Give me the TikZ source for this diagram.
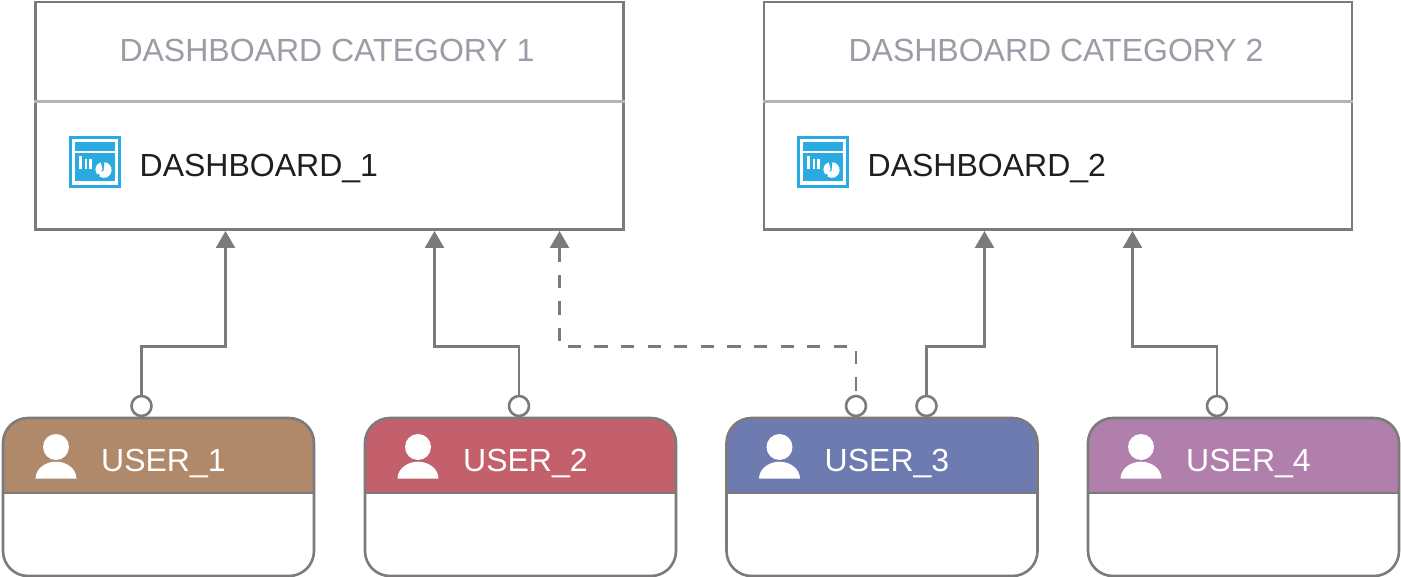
\documentclass[tikz,border=0pt]{standalone}
\usepackage{fontspec}
\setmainfont{Liberation Sans}
\usetikzlibrary{arrows.meta}
\definecolor{lineg}{HTML}{7D7A7B}
\definecolor{divg}{HTML}{B5B4B5}
\definecolor{capg}{HTML}{9C9BA6}
\definecolor{icb}{HTML}{29ABE2}
\definecolor{ubrown}{HTML}{AF8969}
\definecolor{ured}{HTML}{C4606C}
\definecolor{ublue}{HTML}{6E7BB0}
\definecolor{upurple}{HTML}{B17FAB}
\tikzset{
  x=1pt,y=-1pt,
  catbox/.style={draw=lineg,line width=2.6pt,fill=white},
  divline/.style={draw=divg,line width=2.6pt},
  cattext/.style={text=capg,font=\fontsize{32}{32}\selectfont,inner sep=0pt,anchor=base},
  dashtext/.style={text=black!88,font=\fontsize{32}{32}\selectfont,inner sep=0pt,anchor=base west},
  usertext/.style={text=white,font=\fontsize{32}{32}\selectfont,inner sep=0pt,anchor=base west},
  usershape/.style={draw=lineg,line width=2.6pt},
  port/.style={circle,draw=lineg,line width=2.6pt,fill=white,minimum size=20pt,inner sep=0pt},
  link/.style={draw=lineg,line width=2.6pt,-{Triangle[length=17pt,width=19pt,fill=lineg]}},
  linkdash/.style={link,dash pattern=on 13.3pt off 13.3pt,dash phase=22.6pt},
}
\newcommand{\dashicon}[2]{%
  \begin{scope}[shift={(#1,#2)}]
    \fill[icb] (0,0) rectangle (52,52);
    \fill[white] (3,3) rectangle (49,49);
    \fill[icb] (5.7,6) rectangle (45.7,14.7);
    \fill[icb] (5.7,17.3) rectangle (45.7,44.7);
    \fill[white] (9.7,19.7) rectangle (13,33);
    \fill[white] (15.7,23) rectangle (18.3,33);
    \fill[white] (20,23) rectangle (22.7,33);
    \fill[white] (34.8,34) -- +(275:7.8) arc[start angle=275,end angle=485,radius=7.8] -- cycle;
    \fill[white] (33.6,33.4) -- +(135:7.2) arc[start angle=135,end angle=255,radius=7.2] -- cycle;
    \fill[white] (33.4,35.2) -- +(125:0.1) -- (28.5,35) arc[start angle=170,end angle=125,radius=7.5] -- cycle;
  \end{scope}}
\newcommand{\userbox}[4]{% x, colour, label, name
  \begin{scope}[shift={(#1,418)}]
    \fill[#2] (0,75) -- (0,25) arc[start angle=180,end angle=270,radius=25] -- (286,0) arc[start angle=270,end angle=360,radius=25] -- (311,75) -- cycle;
    \draw[usershape] (0,25) arc[start angle=180,end angle=270,radius=25] -- (286,0) arc[start angle=270,end angle=360,radius=25] -- (311,133) arc[start angle=0,end angle=90,radius=25] -- (25,158) arc[start angle=90,end angle=180,radius=25] -- cycle;
    \draw[usershape] (0,75) -- (311,75);
    \fill[white] (53,29) circle[radius=13];
    \fill[white] (32.5,60.7) arc[start angle=180,end angle=360,x radius=20.5,y radius=17] -- cycle;
    \node[usertext] (#4) at (98,53) {#3};
  \end{scope}}
\begin{document}
\begin{tikzpicture}
\useasboundingbox (0,0) rectangle (1401,577);
% category boxes
\node[catbox,minimum width=588pt,minimum height=227.5pt,anchor=north west,inner sep=0pt] (cat1) at (34.2,0.7) {};
\node[catbox,minimum width=588pt,minimum height=227.5pt,anchor=north west,inner sep=0pt] (cat2) at (762.7,0.7) {};
\draw[divline] (cat1.west |- 0,101.5) coordinate (d1l) -- (cat1.east |- 0,101.5) coordinate (d1r);
\draw[divline] (cat2.west |- 0,101.5) coordinate (d2l) -- (cat2.east |- 0,101.5) coordinate (d2r);
\node[cattext] (t1) at (327,62) {DASHBOARD CATEGORY 1};
\node[cattext] (t2) at (1056,62) {DASHBOARD CATEGORY 2};
\dashicon{69}{136}
\dashicon{797}{136}
\node[dashtext] (n1) at (139.5,177) {DASHBOARD\_1};
\node[dashtext] (n2) at (867.5,177) {DASHBOARD\_2};
% users
\userbox{3}{ubrown}{USER\_1}{u1}
\userbox{365}{ured}{USER\_2}{u2}
\userbox{726.5}{ublue}{USER\_3}{u3}
\userbox{1088}{upurple}{USER\_4}{u4}
% ports
\node[port] (p1) at (141.5,406) {};
\node[port] (p2) at (519,406) {};
\node[port] (p3a) at (856,406) {};
\node[port] (p3b) at (926.5,406) {};
\node[port] (p4) at (1217,406) {};
% targets
\coordinate (a1) at (225.5,231);
\coordinate (a2) at (434.5,231);
\coordinate (a3) at (559.5,231);
\coordinate (a4) at (984.5,231);
\coordinate (a5) at (1132.5,231);
% connectors
\draw[link] (p1.north) -- (p1.north |- 0,346.5) -| (a1);
\draw[link] (p2.north) -- (p2.north |- 0,346.5) -| (a2);
\draw[linkdash] (p3a.north) -- (p3a.north |- 0,346.5) -| (a3);
\draw[link] (p3b.north) -- (p3b.north |- 0,346.5) -| (a4);
\draw[link] (p4.north) -- (p4.north |- 0,346.5) -| (a5);
\end{tikzpicture}
\end{document}
